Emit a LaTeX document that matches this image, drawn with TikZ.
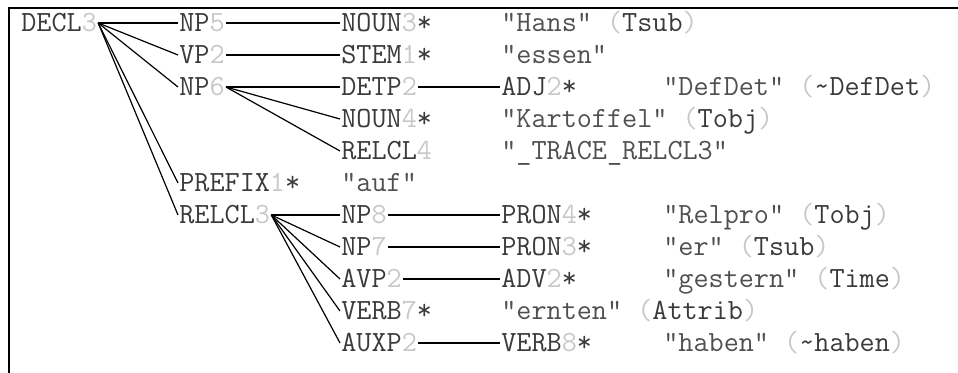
\documentclass[tikz,border=0pt]{standalone}
\definecolor{ink}{RGB}{58,58,58}
\definecolor{faint}{RGB}{200,200,200}
\definecolor{quoted}{RGB}{80,80,80}
\newcommand{\nr}[1]{\textcolor{faint}{#1}}
\newcommand{\tg}[1]{\textcolor{faint}{(}\textcolor{ink}{#1}\textcolor{faint}{)}}
\tikzset{
  lbl/.style={anchor=west,inner sep=0pt,outer sep=1pt,text=ink,
    text height=13.4pt,text depth=0pt,font=\fontsize{22}{24}\selectfont\ttfamily},
  val/.style={lbl,text=quoted},
  % tree lines
  branch/.style={draw=black,line width=0.9pt},
  frame/.style={draw=black,line width=1.9pt},
}
\begin{document}
\begin{tikzpicture}[x=0.75pt,y=-0.75pt]
  \useasboundingbox (0,0) rectangle (958,373);
  \draw[frame] (9,373) -- (9,8) -- (958,8);
  \node[lbl] (decl3) at (20,23) {DECL\nr{3}};
  \node[lbl] (np5) at (178,23) {NP\nr{5}};
  \node[lbl] (noun3) at (340,23) {NOUN\nr{3}*};
  \node[val] (hans) at (500,23) {"Hans" \tg{Tsub}};
  \node[lbl] (vp2) at (178,55) {VP\nr{2}};
  \node[lbl] (stem1) at (340,55) {STEM\nr{1}*};
  \node[val] (essen) at (500,55) {"essen"};
  \node[lbl] (np6) at (178,87) {NP\nr{6}};
  \node[lbl] (detp2) at (340,87) {DETP\nr{2}};
  \node[lbl] (adj2) at (500,87) {ADJ\nr{2}*};
  \node[val] (defdet) at (662,87) {"DefDet" \tg{\textasciitilde DefDet}};
  \node[lbl] (noun4) at (340,119) {NOUN\nr{4}*};
  \node[val] (kartoffel) at (500,119) {"Kartoffel" \tg{Tobj}};
  \node[lbl] (relcl4) at (340,151) {RELCL\nr{4}};
  \node[val] (trace) at (500,151) {"\_TRACE\_RELCL3"};
  \node[lbl] (prefix1) at (178,183) {PREFIX\nr{1}*};
  \node[val] (auf) at (340,183) {"auf"};
  \node[lbl] (relcl3) at (178,215) {RELCL\nr{3}};
  \node[lbl] (np8) at (340,215) {NP\nr{8}};
  \node[lbl] (pron4) at (500,215) {PRON\nr{4}*};
  \node[val] (relpro) at (662,215) {"Relpro" \tg{Tobj}};
  \node[lbl] (np7) at (340,247) {NP\nr{7}};
  \node[lbl] (pron3) at (500,247) {PRON\nr{3}*};
  \node[val] (er) at (662,247) {"er" \tg{Tsub}};
  \node[lbl] (avp2) at (340,279) {AVP\nr{2}};
  \node[lbl] (adv2) at (500,279) {ADV\nr{2}*};
  \node[val] (gestern) at (662,279) {"gestern" \tg{Time}};
  \node[lbl] (verb7) at (340,311) {VERB\nr{7}*};
  \node[val] (ernten) at (500,311) {"ernten" \tg{Attrib}};
  \node[lbl] (auxp2) at (340,343) {AUXP\nr{2}};
  \node[lbl] (verb8) at (500,343) {VERB\nr{8}*};
  \node[val] (haben) at (662,343) {"haben" \tg{\textasciitilde haben}};
  \foreach \a/\b in {decl3/np5,decl3/vp2,decl3/np6,decl3/prefix1,decl3/relcl3,
      np5/noun3,vp2/stem1,np6/detp2,np6/noun4,np6/relcl4,detp2/adj2,
      relcl3/np8,relcl3/np7,relcl3/avp2,relcl3/verb7,relcl3/auxp2,
      np8/pron4,np7/pron3,avp2/adv2,auxp2/verb8}
    \draw[branch] (\a.east) -- (\b.west);
\end{tikzpicture}
\end{document}
